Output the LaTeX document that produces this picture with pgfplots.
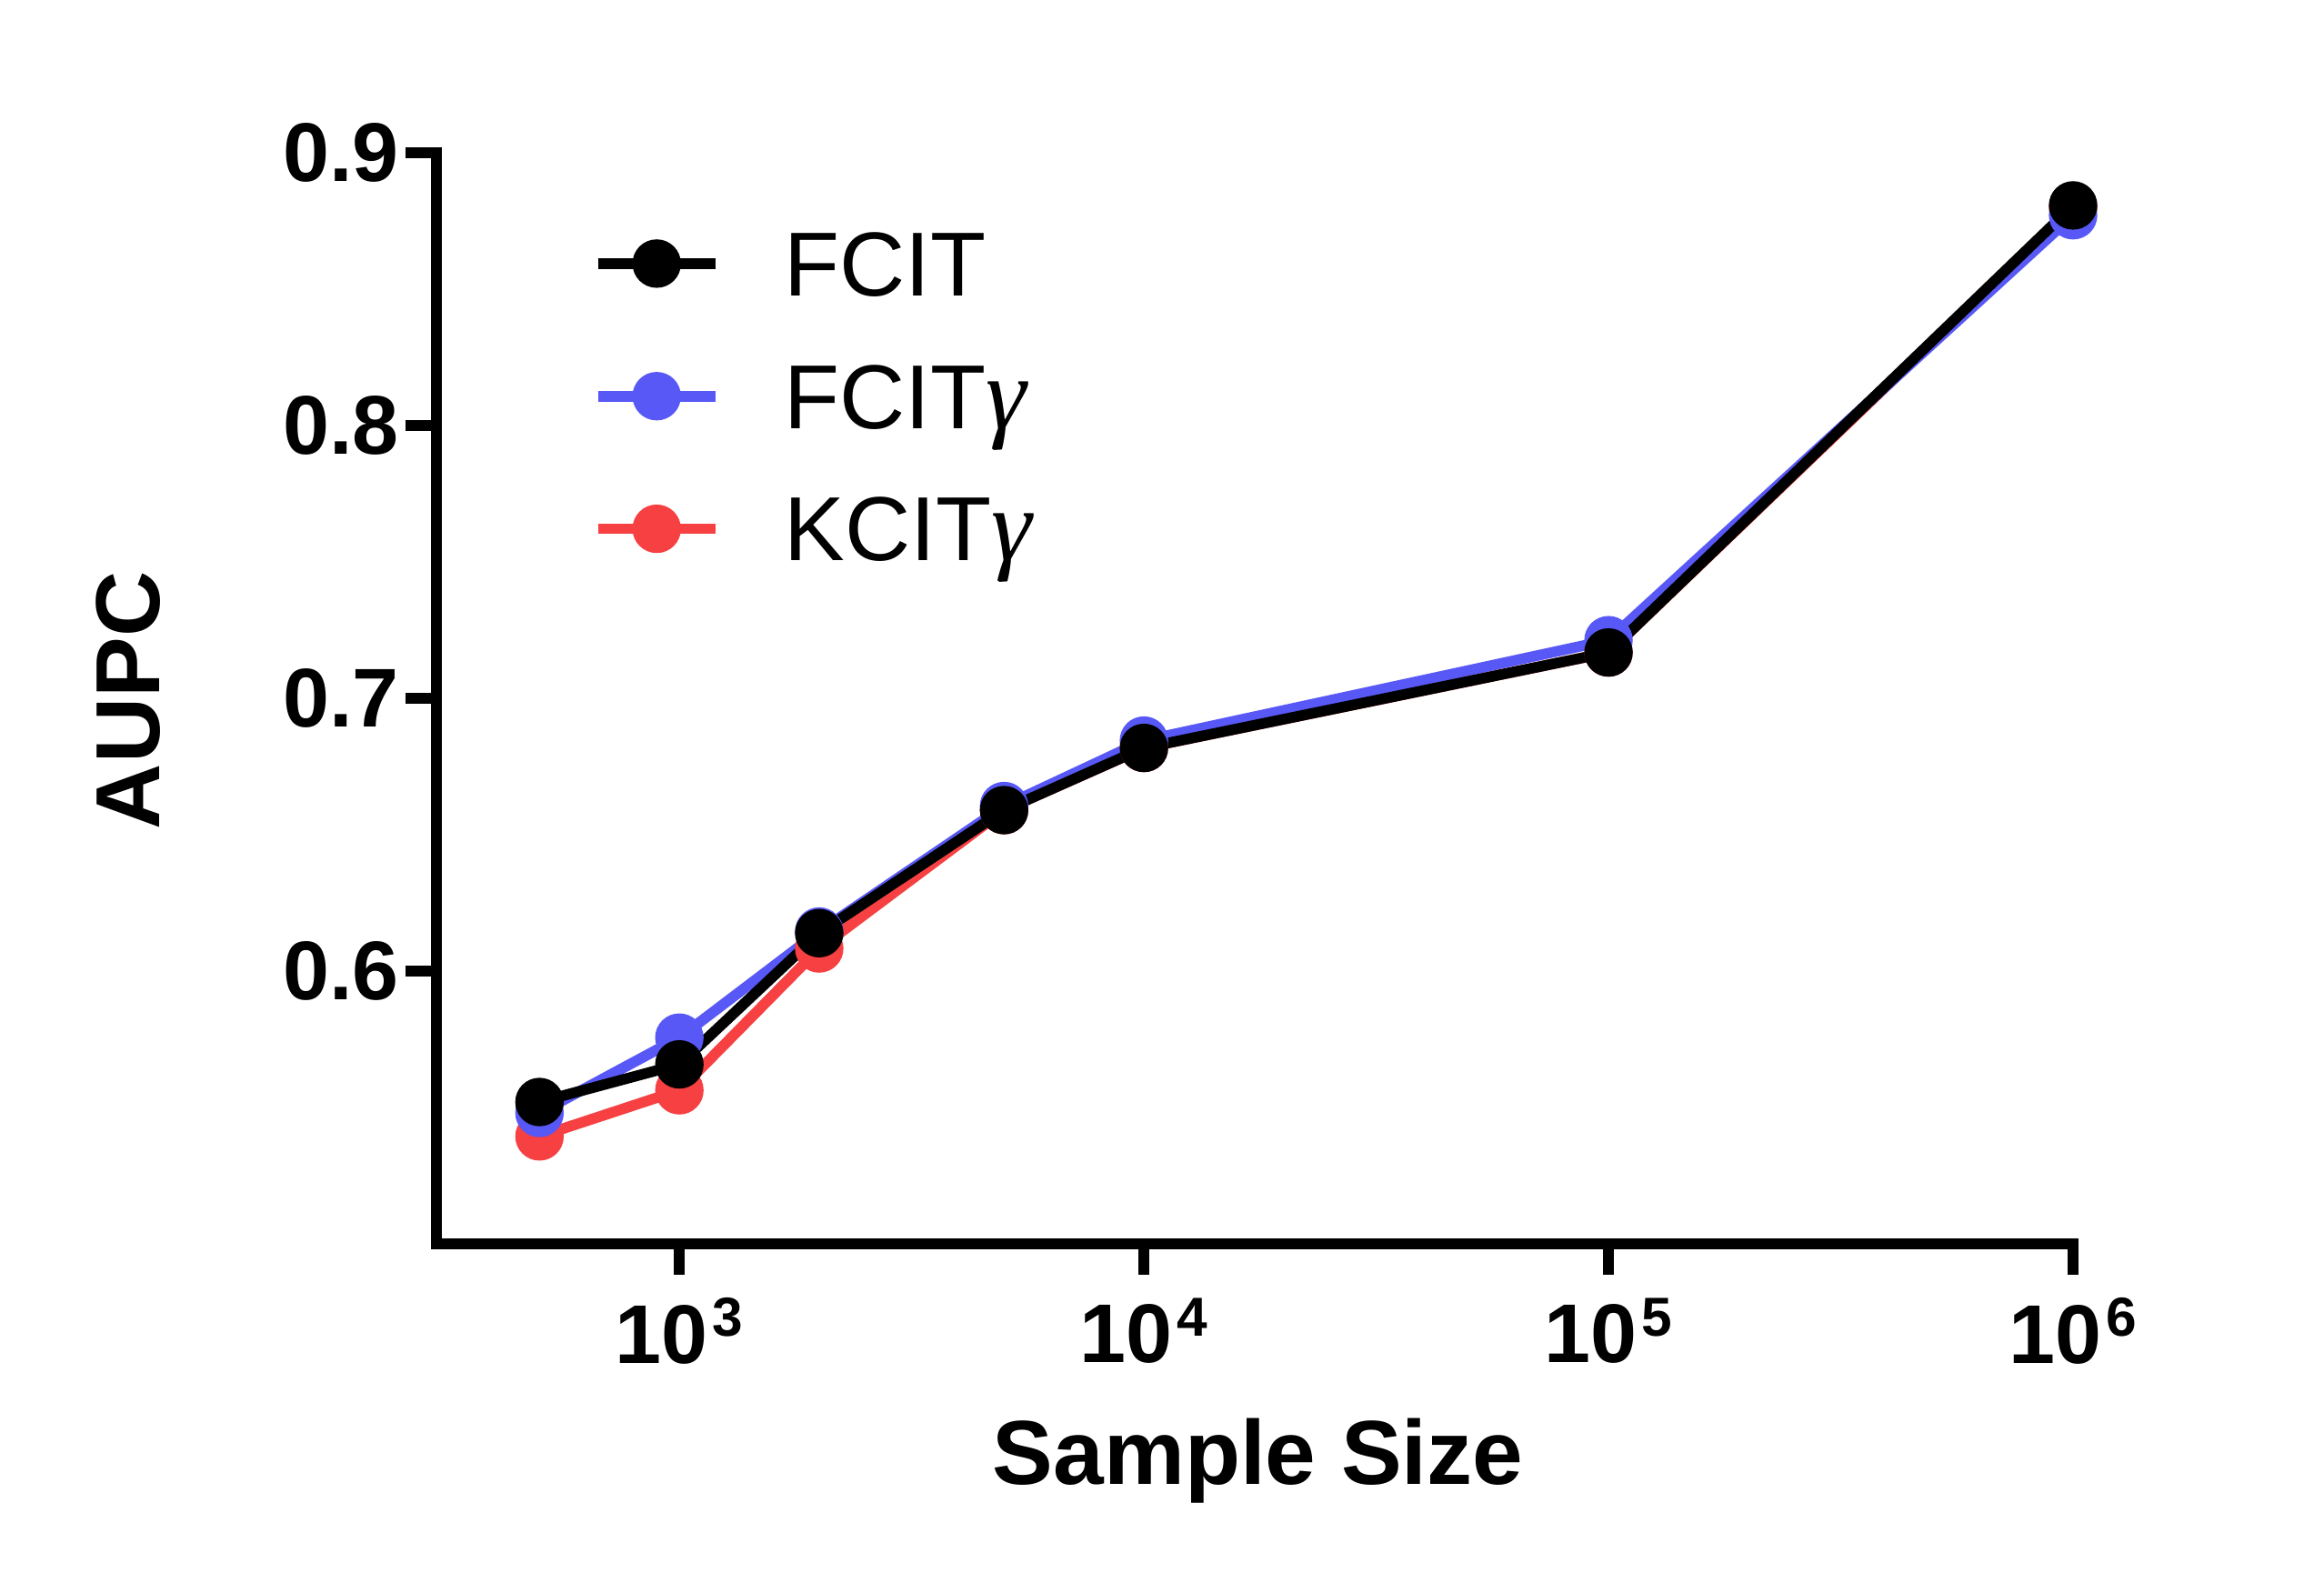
\documentclass[border=0pt]{standalone}
\usepackage{fontspec}
\setmainfont{Liberation Sans}
\newfontfamily\greekfont{Liberation Serif}
\usepackage{pgfplots}
\pgfplotsset{compat=1.18}

\definecolor{fcitg}{RGB}{88,88,246}
\definecolor{kcitg}{RGB}{246,64,66}

% power-of-ten tick labels in the text font
\newcommand\tenp[1]{10\hspace{1.2bp}\raisebox{7bp}{\fontsize{14.5bp}{14.5bp}\selectfont #1}}
\newcommand\gam{{\greekfont\itshape\fontsize{27bp}{27bp}\selectfont γ}}

\begin{document}
\begin{tikzpicture}
\path[use as bounding box] (-115.2bp,-89.28bp) rectangle (498.24bp,328.32bp);
\begin{axis}[
  scale only axis,
  width=432bp, height=288bp,
  xmode=log, xmin=300, xmax=1e6,
  ymin=0.5, ymax=0.9,
  axis x line*=bottom, axis y line*=left,
  axis line style={line width=2.8bp, line cap=rect},
  every tick/.style={black, line width=2.8bp},
  tick align=outside,
  major tick length=8.2bp,
  xminorticks=false, yminorticks=false,
  xtick={1e3,1e4,1e5,1e6},
  xticklabels={\tenp{3},\tenp{4},\tenp{5},\tenp{6}},
  ytick={0.6,0.7,0.8,0.9},
  yticklabels={0.6,0.7,0.8,0.9},
  ticklabel style={font=\fontsize{22bp}{22bp}\selectfont\bfseries},
  yticklabel style={inner sep=1.5bp},
  xticklabel style={yshift=-2.6bp},
  xlabel={Sample Size},
  ylabel={AUPC},
  label style={font=\fontsize{24bp}{24bp}\selectfont\bfseries, inner sep=0pt},
  xlabel style={at={(axis description cs:0.502,-0.220)}, anchor=base},
  ylabel style={at={(axis description cs:-0.1694,0.498)}, anchor=base},
  legend cell align=left,
  reverse legend,
  legend image code/.code={\draw[#1, mark repeat=2, mark phase=2] plot coordinates {(0bp,0bp) (15.5bp,0bp) (31bp,0bp)};},
  legend style={draw=none, fill=none, at={(0.095,0.946)}, anchor=north west,
    inner sep=0pt, row sep=8bp, column sep=16.8bp,
    nodes={inner sep=0pt, text height=22bp, text depth=5bp, font=\fontsize{24bp}{24bp}\selectfont}},
  every axis plot/.append style={line width=2.8bp, mark=*, mark size=6.2bp,
    mark options={solid, line width=0.4bp}},
]
% KCITgamma
\addplot[color=kcitg] coordinates {
  (500,0.5394) (1000,0.5563) (2000,0.6083) (5000,0.659) (10000,0.6818) (100000,0.7168) (1000000,0.8800)
};
% FCITgamma
\addplot[color=fcitg] coordinates {
  (500,0.548) (1000,0.5756) (2000,0.6145) (5000,0.6605) (10000,0.6845) (100000,0.7213) (1000000,0.8771)
};
% FCIT
\addplot[color=black] coordinates {
  (500,0.552) (1000,0.5658) (2000,0.6139) (5000,0.659) (10000,0.6818) (100000,0.7168) (1000000,0.8807)
};
\legend{KCIT\gam, FCIT\gam, FCIT}
\end{axis}
\end{tikzpicture}
\end{document}
